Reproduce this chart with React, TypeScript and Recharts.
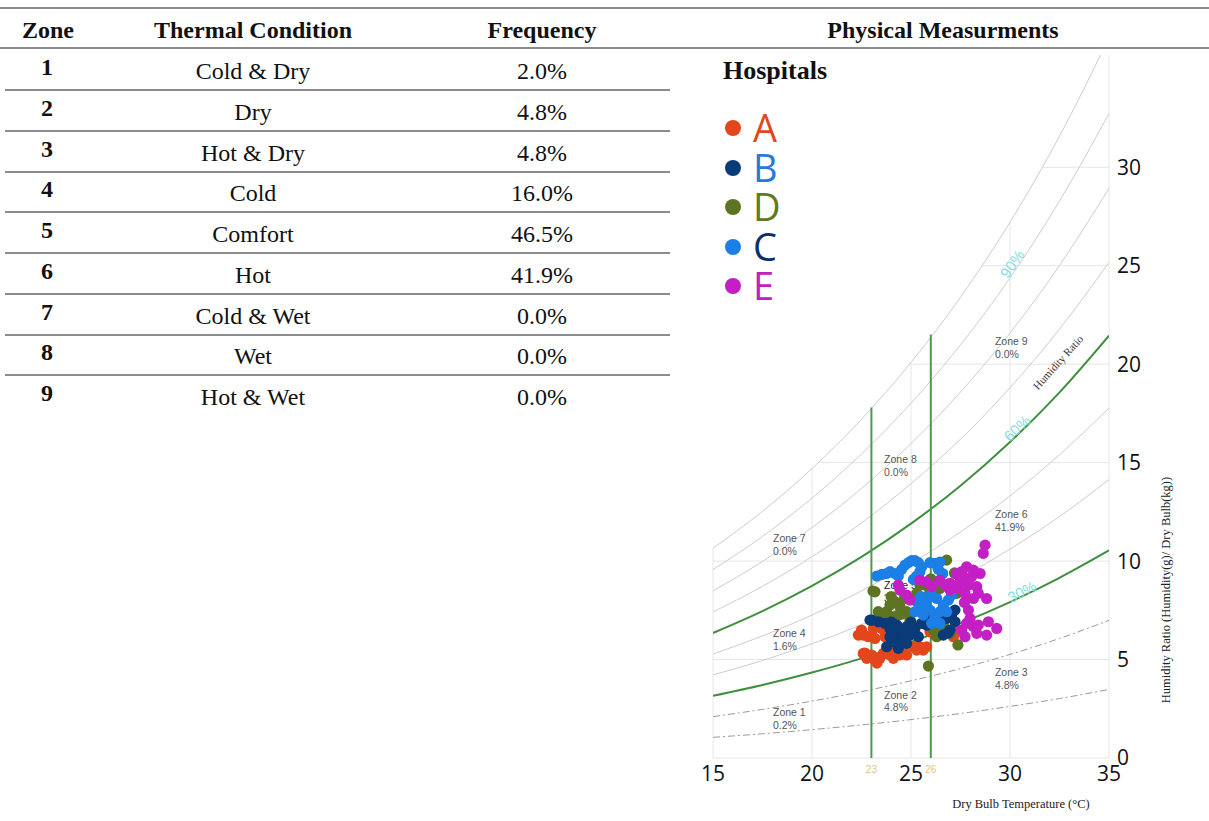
import React from 'react';
import { ComposedChart, Line, Scatter, XAxis, YAxis, ReferenceLine } from 'recharts';

// ---------- Table data ----------
const zoneNumbers = ['1', '2', '3', '4', '5', '6', '7', '8', '9'];
const thermalConditions = ['Cold & Dry', 'Dry', 'Hot & Dry', 'Cold', 'Comfort', 'Hot', 'Cold & Wet', 'Wet', 'Hot & Wet'];
const frequencies = ['2.0%', '4.8%', '4.8%', '16.0%', '46.5%', '41.9%', '0.0%', '0.0%', '0.0%'];

// ---------- Psychrometric curves (humidity ratio g/kg at dry bulb °C) ----------
const temps = [15, 17.5, 20, 22.5, 25, 27.5, 30, 32.5, 35];
const rh10 = [1.05, 1.23, 1.44, 1.68, 1.95, 2.26, 2.62, 3.02, 3.48];
const rh20 = [2.1, 2.47, 2.89, 3.37, 3.92, 4.54, 5.26, 6.07, 6.99];
const rh30 = [3.16, 3.71, 4.34, 5.06, 5.89, 6.84, 7.92, 9.15, 10.54];
const rh40 = [4.22, 4.95, 5.8, 6.77, 7.88, 9.15, 10.61, 12.26, 14.14];
const rh50 = [5.28, 6.2, 7.26, 8.49, 9.88, 11.48, 13.31, 15.4, 17.77];
const rh60 = [6.35, 7.46, 8.74, 10.21, 11.9, 13.83, 16.05, 18.57, 21.45];
const rh70 = [7.42, 8.72, 10.22, 11.94, 13.93, 16.19, 18.8, 21.78, 25.17];
const rh80 = [8.49, 9.98, 11.7, 13.69, 15.97, 18.58, 21.58, 25.01, 28.93];
const rh90 = [9.57, 11.25, 13.2, 15.44, 18.02, 20.98, 24.38, 28.28, 32.73];
const rh100 = [10.65, 12.53, 14.7, 17.2, 20.09, 23.4, 27.21, 31.58, 36.58];

const curveData = temps.map((t, i) => ({
  t,
  rh10: rh10[i], rh20: rh20[i], rh30: rh30[i], rh40: rh40[i], rh50: rh50[i],
  rh60: rh60[i], rh70: rh70[i], rh80: rh80[i], rh90: rh90[i], rh100: rh100[i],
}));

const xTicks = [15, 20, 25, 30, 35];
const yTicks = [0, 5, 10, 15, 20, 25, 30];

// grid lines limited to below saturation curve
const hGridW = [0, 5, 10, 15, 20, 25, 30];
const hGridStartT = [15, 15, 15, 20.3, 24.93, 28.55, 31.6];
const vGridT = [15, 20, 25, 30, 35];
const vGridTopW = [10.65, 14.7, 20.09, 27.21, 35.7];

// comfort band verticals
const comfortT = [23, 26];
const comfortTopW = [17.8, 21.5];
const comfortLabels = ['23', '26'];

// zone labels
const zoneLabelT = [18.03, 23.64, 29.24, 18.03, 23.64, 29.24, 18.03, 23.64, 29.24];
const zoneLabelW = [2.13, 3.0, 4.16, 6.14, 8.58, 12.18, 10.96, 14.97, 20.96];
const zoneLabelTitle = ['Zone 1', 'Zone 2', 'Zone 3', 'Zone 4', 'Zone 5', 'Zone 6', 'Zone 7', 'Zone 8', 'Zone 9'];
const zoneLabelPct = ['0.2%', '4.8%', '4.8%', '1.6%', '36.6%', '41.9%', '0.0%', '0.0%', '0.0%'];
const zoneLabels = zoneLabelT.map((t, i) => ({ t, w: zoneLabelW[i], l1: zoneLabelTitle[i], l2: zoneLabelPct[i], dark: i === 4 }));

// RH curve labels
const rhLabelText = ['90%', '60%', '30%'];
const rhLabelT = [30.1, 30.35, 30.6];
const rhLabelW = [25.1, 16.75, 8.45];
const rhLabelAngle = [-55, -43, -27];
const rhLabels = rhLabelText.map((text, i) => ({ t: rhLabelT[i], w: rhLabelW[i], text, angle: rhLabelAngle[i] }));
const humidityRatioLabel = [{ t: 32.42, w: 20.1, text: 'Humidity Ratio', angle: -48 }];

// ---------- Hospital measurements [dry bulb °C, humidity ratio g/kg] ----------
const hospitalA = [
  [22.34, 6.24], [22.59, 6.24], [22.84, 6.16], [23.18, 6.07], [23.1, 6.58], [23.52, 6.58], [22.59, 5.31], [22.76, 5.06],
  [23.01, 5.23], [23.18, 4.97], [23.43, 5.06], [23.6, 5.31], [23.94, 5.23], [24.11, 5.06], [24.44, 5.23], [24.78, 5.23],
  [25.12, 5.65], [25.45, 5.65], [25.79, 5.65], [25.62, 5.48], [25.29, 5.48], [25.96, 6.41], [26.21, 6.24], [27.14, 6.16],
  [27.31, 6.41], [23.69, 6.16], [24.02, 6.16], [22.68, 5.33], [23.28, 4.82], [22.5, 6.5], [24.2, 5.7], [24.6, 5.5],
];
const hospitalB = [
  [22.93, 7.0], [23.35, 6.92], [23.69, 6.84], [23.94, 6.58], [24.28, 6.75], [24.19, 6.33], [24.53, 6.5], [24.78, 6.67],
  [24.95, 6.24], [24.44, 5.99], [24.11, 5.9], [24.78, 5.82], [25.2, 6.58], [25.54, 6.84], [25.79, 6.75], [25.37, 6.16],
  [23.94, 6.16], [23.77, 5.65], [24.36, 5.57], [26.8, 7.09], [27.05, 7.26], [27.22, 6.92], [26.97, 6.5], [26.63, 6.24],
  [26.38, 7.0], [25.88, 7.09], [27.22, 7.51], [23.03, 7.0], [26.87, 6.35], [24.6, 6.1], [25.0, 6.9], [24.0, 6.9],
];
const hospitalD = [
  [26.8, 10.05], [27.22, 9.37], [23.18, 8.44], [23.35, 7.43], [23.6, 7.0], [23.77, 7.43], [23.94, 7.77], [24.19, 7.94],
  [24.44, 7.68], [24.7, 8.1], [24.36, 7.26], [24.78, 7.43], [24.11, 7.17], [24.95, 7.0], [25.71, 8.78], [25.96, 8.53],
  [26.21, 8.27], [25.79, 8.19], [26.46, 8.61], [26.13, 6.5], [26.46, 6.58], [26.63, 6.75], [25.88, 4.67], [26.97, 6.33],
  [26.3, 6.16], [27.31, 8.36], [25.45, 8.78], [25.29, 8.36], [27.37, 5.74], [23.08, 8.48], [27.2, 9.4], [24.0, 8.2],
  [24.5, 7.3], [26.0, 9.1],
];
const hospitalC = [
  [23.27, 9.24], [23.52, 9.32], [23.77, 9.37], [23.94, 9.46], [24.19, 9.37], [24.36, 9.24], [24.53, 9.58], [24.7, 9.8],
  [24.87, 9.92], [25.03, 10.02], [25.2, 10.02], [25.37, 9.92], [25.54, 9.71], [25.45, 9.46], [25.29, 9.24], [25.12, 9.07],
  [25.96, 9.92], [26.21, 9.88], [26.46, 9.95], [26.38, 9.58], [26.6, 9.37], [25.29, 7.94], [25.54, 7.68], [25.2, 7.43],
  [25.62, 7.26], [25.96, 7.51], [26.21, 7.17], [26.46, 7.43], [26.63, 7.77], [26.89, 8.02], [27.05, 8.27], [26.8, 7.43],
  [26.04, 6.84], [26.46, 6.84], [25.79, 7.94], [26.3, 8.1], [25.5, 8.2], [26.0, 8.3],
];
const hospitalE = [
  [28.74, 10.81], [28.65, 10.39], [27.81, 9.71], [28.15, 9.54], [28.49, 9.37], [28.06, 9.2], [27.64, 9.12], [27.9, 8.78],
  [28.32, 8.7], [28.4, 8.36], [28.15, 8.1], [27.73, 8.36], [27.39, 8.61], [27.47, 8.95], [28.82, 8.1], [27.9, 7.51],
  [27.98, 7.09], [28.15, 6.67], [28.4, 6.75], [28.32, 6.33], [28.82, 6.24], [29.33, 6.58], [28.91, 6.92], [27.73, 6.16],
  [27.56, 6.5], [27.81, 6.84], [24.44, 8.53], [24.78, 8.27], [24.95, 8.02], [24.36, 8.78], [25.45, 9.04], [25.79, 8.95],
  [26.04, 8.7], [26.46, 9.04], [26.72, 8.78], [26.97, 8.87], [26.97, 8.53], [27.31, 9.37], [27.56, 9.46], [27.7, 7.9],
];

const toPts = (arr: number[][]) => arr.map(([t, w]) => ({ t, w }));

const hospitalNames = ['A', 'B', 'D', 'C', 'E'];
const hospitalDotColors = ['#e2461a', '#0b3a78', '#5d7423', '#1c7fe6', '#c41fc4'];
const hospitalLetterColors = ['#e0471c', '#2a78d8', '#5e7a22', '#0a2f6a', '#c020c0'];

// draw order: A, D, B, C, E
const seriesOrder = [
  { data: hospitalA, color: '#e2461a' },
  { data: hospitalD, color: '#5d7423' },
  { data: hospitalB, color: '#0b3a78' },
  { data: hospitalC, color: '#1c7fe6' },
  { data: hospitalE, color: '#c41fc4' },
];

const SERIF = '"Liberation Serif", "Times New Roman", serif';
const SANS = '"Liberation Sans", Arial, sans-serif';

const gray = '#cdcdcd';
const green = '#3f8f3f';

const Txt = ({ cx, cy, size, bold, children }: any) => (
  <div
    style={{
      position: 'absolute', left: cx - 160, width: 320, top: cy - size / 2, height: size,
      lineHeight: `${size}px`, fontSize: size, fontWeight: bold ? 700 : 400, textAlign: 'center',
      whiteSpace: 'nowrap', color: '#111',
    }}
  >
    {children}
  </div>
);

const Rule = ({ x1, x2, y }: any) => (
  <div style={{ position: 'absolute', left: x1, width: x2 - x1, top: y - 1, height: 2, background: '#8c8c8c' }} />
);

export default function App() {
  const rowY = (i: number) => 71 + 40.75 * i;
  return (
    <div style={{ position: 'absolute', left: 0, top: 0, width: 1209, height: 821, background: '#fff', fontFamily: SERIF, overflow: 'hidden' }}>
      {/* table */}
      <Rule x1={0} x2={1209} y={8} />
      <Rule x1={0} x2={1209} y={48} />
      <Txt cx={48} cy={30} size={24} bold>Zone</Txt>
      <Txt cx={253} cy={30} size={24} bold>Thermal Condition</Txt>
      <Txt cx={542} cy={30} size={24} bold>Frequency</Txt>
      <Txt cx={943} cy={30} size={24} bold>Physical Measurments</Txt>
      {zoneNumbers.map((z, i) => (
        <React.Fragment key={z}>
          <Txt cx={47} cy={rowY(i) - 4} size={24} bold>{z}</Txt>
          <Txt cx={253} cy={rowY(i)} size={24}>{thermalConditions[i]}</Txt>
          <Txt cx={542} cy={rowY(i)} size={24}>{frequencies[i]}</Txt>
          {i < 8 && <Rule x1={5} x2={670} y={90 + 40.75 * i} />}
        </React.Fragment>
      ))}

      {/* chart */}
      <div style={{ position: 'absolute', left: 700, top: 0 }}>
        <ComposedChart width={509} height={821} data={curveData} margin={{ top: 55, right: 40, bottom: 33, left: 13 }}>
          <XAxis
            type="number" dataKey="t" domain={[15, 35]} ticks={xTicks} interval={0} allowDataOverflow
            axisLine={false} tickLine={false} height={30}
            tick={{ fontSize: 21, fill: '#111', fontFamily: '"Open Sans", sans-serif' }}
          />
          <YAxis
            type="number" orientation="right" domain={[0, 35.7]} ticks={yTicks} interval={0} allowDataOverflow
            axisLine={false} tickLine={false} width={60}
            tick={{ fontSize: 21, fill: '#111', fontFamily: '"Open Sans", sans-serif' }}
          />
          {hGridW.map((w, i) => (
            <ReferenceLine key={'h' + w} segment={[{ x: hGridStartT[i], y: w }, { x: 35, y: w }]} stroke="#e6e6e6" strokeWidth={1} />
          ))}
          {vGridT.map((t, i) => (
            <ReferenceLine key={'v' + t} segment={[{ x: t, y: 0 }, { x: t, y: vGridTopW[i] }]} stroke="#e6e6e6" strokeWidth={1} />
          ))}
          <Line dataKey="rh10" type="monotone" dot={false} stroke="#9a9a9a" strokeWidth={1} strokeDasharray="7 3 2 3" isAnimationActive={false} />
          <Line dataKey="rh20" type="monotone" dot={false} stroke="#9a9a9a" strokeWidth={1} strokeDasharray="7 3 2 3" isAnimationActive={false} />
          <Line dataKey="rh30" type="monotone" dot={false} stroke={green} strokeWidth={2} isAnimationActive={false} />
          <Line dataKey="rh40" type="monotone" dot={false} stroke={gray} strokeWidth={1} isAnimationActive={false} />
          <Line dataKey="rh50" type="monotone" dot={false} stroke={gray} strokeWidth={1} isAnimationActive={false} />
          <Line dataKey="rh60" type="monotone" dot={false} stroke={green} strokeWidth={2} isAnimationActive={false} />
          <Line dataKey="rh70" type="monotone" dot={false} stroke={gray} strokeWidth={1} isAnimationActive={false} />
          <Line dataKey="rh80" type="monotone" dot={false} stroke={gray} strokeWidth={1} isAnimationActive={false} />
          <Line dataKey="rh90" type="monotone" dot={false} stroke={gray} strokeWidth={1} isAnimationActive={false} />
          <Line dataKey="rh100" type="monotone" dot={false} stroke={gray} strokeWidth={1} isAnimationActive={false} />
          {comfortT.map((t, i) => (
            <ReferenceLine
              key={'c' + t}
              segment={[{ x: t, y: 0 }, { x: t, y: comfortTopW[i] }]}
              stroke="#4c9a4c" strokeWidth={2}
              label={{ value: comfortLabels[i], position: 'bottom', offset: 8, fill: '#dcc28a', fontSize: 10, fontFamily: SANS }}
            />
          ))}
          <Scatter
            data={zoneLabels} dataKey="w" isAnimationActive={false}
            shape={(p: any) => (
              <text x={p.cx} y={p.cy} fontSize={10.5} fill={p.payload.dark ? '#222' : '#555'} fontFamily={SANS}>
                <tspan x={p.cx} dy={0}>{p.payload.l1}</tspan>
                <tspan x={p.cx} dy={12.5}>{p.payload.l2}</tspan>
              </text>
            )}
          />
          {seriesOrder.map((s, k) => (
            <Scatter
              key={'s' + k} data={toPts(s.data)} dataKey="w" isAnimationActive={false}
              shape={(p: any) => <circle cx={p.cx} cy={p.cy} r={5.6} fill={s.color} />}
            />
          ))}
          <Scatter
            data={rhLabels} dataKey="w" isAnimationActive={false}
            shape={(p: any) => (
              <text x={p.cx} y={p.cy} fontSize={15} fill="#82dede" fontFamily={SANS} textAnchor="middle"
                dominantBaseline="central" transform={`rotate(${p.payload.angle} ${p.cx} ${p.cy})`}>
                {p.payload.text}
              </text>
            )}
          />
          <Scatter
            data={humidityRatioLabel} dataKey="w" isAnimationActive={false}
            shape={(p: any) => (
              <text x={p.cx} y={p.cy} fontSize={11} fill="#333" fontFamily={SERIF} textAnchor="middle"
                dominantBaseline="central" transform={`rotate(${p.payload.angle} ${p.cx} ${p.cy})`}>
                {p.payload.text}
              </text>
            )}
          />
        </ComposedChart>
      </div>

      {/* axis titles */}
      <div style={{ position: 'absolute', left: 871, width: 300, top: 796, height: 16, lineHeight: '16px', textAlign: 'center', fontSize: 12.5, color: '#222', whiteSpace: 'nowrap' }}>
        Dry Bulb Temperature (°C)
      </div>
      <div style={{ position: 'absolute', left: 1166 - 160, width: 320, top: 590 - 8, height: 16, lineHeight: '16px', textAlign: 'center', fontSize: 12.5, color: '#222', whiteSpace: 'nowrap', transform: 'rotate(-90deg)' }}>
        Humidity Ratio (Humidity(g)/ Dry Bulb(kg))
      </div>

      {/* legend */}
      <div style={{ position: 'absolute', left: 723, top: 58, height: 26, lineHeight: '26px', fontSize: 26, fontWeight: 700, color: '#111', whiteSpace: 'nowrap' }}>
        Hospitals
      </div>
      {hospitalNames.map((n, i) => (
        <React.Fragment key={n}>
          <div style={{ position: 'absolute', left: 725, top: 128 + 39.5 * i - 8, width: 16, height: 16, borderRadius: 8, background: hospitalDotColors[i] }} />
          <div style={{ position: 'absolute', left: 753, top: 108 + 39.5 * i, height: 38, lineHeight: '38px', fontSize: 38, fontWeight: 500, fontFamily: '"Open Sans", sans-serif', color: hospitalLetterColors[i] }}>
            {n}
          </div>
        </React.Fragment>
      ))}
    </div>
  );
}
